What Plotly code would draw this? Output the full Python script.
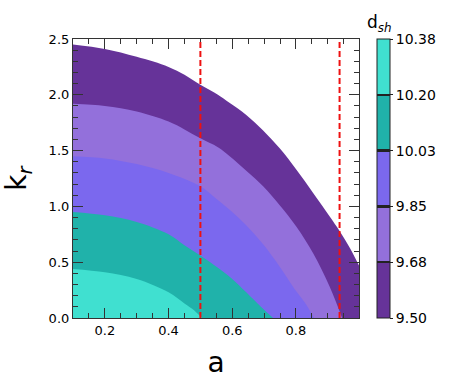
import plotly.graph_objects as go

# band colours, from highest d_sh (inner) to lowest (outer)
colors = ["#40E0D0", "#20B2AA", "#7B68EE", "#9370DB", "#663399"]
levels = [9.50, 9.675, 9.85, 10.025, 10.20, 10.375]
level_labels = ["9.50", "9.68", "9.85", "10.03", "10.20", "10.38"]

# boundary curves (a, k_r)
# outer edge of the sampled region
outer_a = [0.1, 0.2, 0.3, 0.4, 0.45, 0.5, 0.555, 0.59, 0.644, 0.697, 0.749, 0.801, 0.854, 0.906, 0.937, 0.969, 0.998]
outer_k = [2.45, 2.41, 2.34, 2.25, 2.18, 2.09, 2.00, 1.93, 1.82, 1.68, 1.52, 1.33, 1.12, 0.91, 0.78, 0.63, 0.47]
# 9.68 contour
c968_a = [0.1, 0.2, 0.3, 0.4, 0.45, 0.5, 0.555, 0.592, 0.644, 0.697, 0.749, 0.801, 0.854, 0.906, 0.945]
c968_k = [1.92, 1.90, 1.85, 1.76, 1.69, 1.61, 1.53, 1.45, 1.32, 1.18, 1.01, 0.82, 0.58, 0.28, 0.0]
# 9.85 contour
c985_a = [0.1, 0.2, 0.3, 0.4, 0.5, 0.545, 0.592, 0.644, 0.697, 0.749, 0.801, 0.83, 0.857]
c985_k = [1.45, 1.43, 1.38, 1.30, 1.18, 1.08, 0.97, 0.83, 0.66, 0.46, 0.24, 0.13, 0.0]
# 10.03 contour
c1003_a = [0.1, 0.2, 0.3, 0.4, 0.451, 0.5, 0.555, 0.6, 0.644, 0.69, 0.728]
c1003_k = [0.95, 0.92, 0.86, 0.75, 0.65, 0.56, 0.45, 0.35, 0.23, 0.10, 0.0]
# 10.20 contour
c1020_a = [0.1, 0.2, 0.3, 0.4, 0.45, 0.48, 0.505]
c1020_k = [0.44, 0.41, 0.35, 0.23, 0.13, 0.07, 0.0]

# red dashed markers
vlines_a = [0.5, 0.937]

curves = [
    (outer_a, outer_k, colors[4]),
    (c968_a, c968_k, colors[3]),
    (c985_a, c985_k, colors[2]),
    (c1003_a, c1003_k, colors[1]),
    (c1020_a, c1020_k, colors[0]),
]

fig = go.Figure()
for xs, ys, col in curves:
    fig.add_trace(go.Scatter(x=xs, y=ys, mode="lines", fill="tozeroy",
                             fillcolor=col, line=dict(width=0, color=col, shape="spline"),
                             hoverinfo="skip", showlegend=False))

# discrete colour scale for the colour bar (lowest first), with thin dark separators
lo, hi = levels[0], levels[-1]
cols_low = colors[::-1]
cscale = []
for i, col in enumerate(cols_low):
    f0 = (levels[i] - lo) / (hi - lo)
    f1 = (levels[i + 1] - lo) / (hi - lo)
    s0 = f0 + (0.004 if i > 0 else 0)
    s1 = f1 - (0.004 if i < len(cols_low) - 1 else 0)
    if i > 0:
        cscale.append([f0, "#222222"])
        cscale.append([s0, "#222222"])
    cscale.append([s0, col])
    cscale.append([s1, col])
    if i < len(cols_low) - 1:
        cscale.append([s1, "#222222"])

fig.add_trace(go.Scatter(
    x=[None], y=[None], mode="markers", showlegend=False, hoverinfo="skip",
    marker=dict(color=[lo], cmin=lo, cmax=hi, colorscale=cscale, showscale=True,
                colorbar=dict(
                    x=1.063, xanchor="left", y=0.5, yanchor="middle",
                    len=1.0, ypad=0, xpad=0,
                    thickness=13, outlinewidth=1, outlinecolor="#222222",
                    tickvals=levels, ticktext=level_labels, ticks="outside",
                    ticklen=3, tickcolor="#222222",
                    tickfont=dict(size=14, color="black"),
                )),
))

fig.add_annotation(text="d<sub><i>sh</i></sub>", xref="paper", yref="paper",
                   x=1.121, y=1.104, showarrow=False,
                   font=dict(size=17, color="black"))

for xv in vlines_a:
    fig.add_vline(x=xv, line=dict(color="#ee1111", width=2, dash="6px,3px"))

axis_common = dict(
    showgrid=False, zeroline=False, showline=True, linecolor="#333333", linewidth=1.2,
    mirror="ticks", ticks="inside", ticklen=10, tickwidth=1.2, tickcolor="#333333",
    tickfont=dict(size=13, color="black"), tickformat=".1f", automargin=False,
)

fig.update_xaxes(range=[0.1, 0.998], tick0=0, dtick=0.2,
                 minor=dict(dtick=0.05, ticks="inside", ticklen=5, tickcolor="#333333"),
                 title=dict(text="a", font=dict(size=28, color="black")),
                 **axis_common)
fig.update_yaxes(range=[0, 2.5], tick0=0, dtick=0.5,
                 minor=dict(dtick=0.1, ticks="inside", ticklen=5, tickcolor="#333333"),
                 title=dict(text="k<sub><i>r</i></sub>", font=dict(size=28, color="black")),
                 **axis_common)

fig.update_layout(
    width=457, height=388,
    margin=dict(l=73, r=98, t=39, b=70),
    paper_bgcolor="white", plot_bgcolor="white",
    font=dict(family="DejaVu Sans", color="black"),
)

fig.write_html("out.html", config={"displayModeBar": False},
               post_script="document.body.style.margin='0';")
